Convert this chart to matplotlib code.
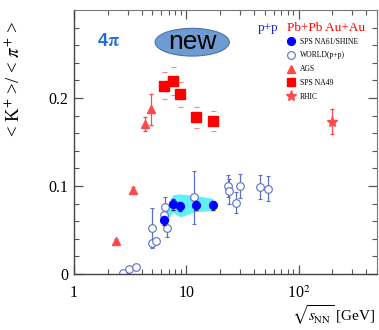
import numpy as np
import matplotlib.pyplot as plt
from matplotlib.patches import Ellipse
from matplotlib.lines import Line2D

plt.rcParams['font.family'] = ['Liberation Serif', 'DejaVu Serif']
plt.rcParams['mathtext.fontset'] = 'stix'

# NA61/SHINE p+p
na61_x = [6.3, 7.6, 8.8, 12.3, 17.3]
na61_y = [0.061, 0.079, 0.077, 0.078, 0.078]
na61_stat = [0.005, 0.006, 0.005, 0.005, 0.005]
na61_sys_lo = [0.056, 0.070, 0.065, 0.071, 0.072]
na61_sys_hi = [0.068, 0.090, 0.091, 0.089, 0.086]

# world p+p data
world_x = [2.72, 3.1, 3.53, 4.94, 4.94, 5.4, 6.36, 6.5, 6.7, 11.6,
           23.5, 24.0, 27.8, 30.4, 45.2, 53.2]
world_y = [0.001, 0.006, 0.008, 0.052, 0.035, 0.037, 0.067, 0.076, 0.052, 0.087,
           0.100, 0.094, 0.081, 0.100, 0.099, 0.097]
world_err = [0.001, 0.001, 0.001, 0.023, 0.004, 0.003, 0.008, 0.012, 0.010, 0.030,
             0.012, 0.014, 0.012, 0.014, 0.014, 0.014]

# AGS Au+Au
ags_x = [2.35, 3.35, 4.3, 4.87]
ags_y = [0.037, 0.096, 0.170, 0.187]
ags_err = [0.003, 0.003, 0.008, 0.018]

# NA49 Pb+Pb
na49_x = [6.3, 7.6, 8.8, 12.3, 17.3]
na49_y = [0.214, 0.219, 0.204, 0.178, 0.174]
na49_stat = [0.003, 0.003, 0.003, 0.003, 0.003]
na49_sys = [0.015, 0.016, 0.014, 0.012, 0.011]

# RHIC Au+Au
rhic_x = [200]
rhic_y = [0.173]
rhic_err = [0.014]

red = '#ff0000'
light_red = '#ff4a4a'
pp_col = '#5a6fc8'

fig = plt.figure(figsize=(3.79, 3.3), dpi=100)
ax = fig.add_axes([0.1953, 0.1697, 0.7995, 0.8])

ax.fill_between(na61_x, na61_sys_lo, na61_sys_hi, color='#5ff0f8', lw=0, zorder=1)

ax.errorbar(world_x, world_y, yerr=world_err, fmt='o', ms=5.5, mfc='white',
            mec=pp_col, mew=0.8, ecolor=pp_col, elinewidth=0.9, capsize=1.2,
            capthick=0.8, zorder=2)

ax.errorbar(na61_x, na61_y, yerr=na61_stat, fmt='o', ms=5.6, color='#0000ff',
            ecolor='#333333', elinewidth=0.8, capsize=1.2, zorder=4)

ax.errorbar(ags_x, ags_y, yerr=ags_err, fmt='^', ms=5.8, color=light_red,
            ecolor=light_red, elinewidth=0.9, capsize=1.5, zorder=3)

# NA49: systematic brackets plus statistical bars
ax.errorbar(na49_x, na49_y, yerr=na49_sys, fmt='none', ecolor='#ff8080',
            elinewidth=0, capsize=1.8, capthick=0.8, zorder=3)
ax.errorbar(na49_x, na49_y, yerr=na49_stat, fmt='s', ms=6.5, color=red,
            ecolor='#ff8080', elinewidth=0.8, zorder=3)

ax.errorbar(rhic_x, rhic_y, yerr=rhic_err, fmt='*', ms=8, color=light_red,
            ecolor=light_red, elinewidth=0.9, capsize=1.5, zorder=3)

ax.set_xscale('log')
ax.set_xlim(1, 500)
ax.set_ylim(0, 0.3)
ax.set_xticks([1, 10, 100])
ax.set_xticklabels(['1', '10', r'10$^2$'])
ax.set_yticks([0, 0.1, 0.2])
ax.set_yticklabels(['0', '0.1', '0.2'])
ax.set_yticks(np.arange(0, 0.3, 0.02), minor=True)

ax.tick_params(which='both', direction='in', top=True, right=True,
               colors='#555555', labelcolor='black', labelsize=11.5)
ax.tick_params(which='major', length=6.5, width=0.9)
ax.tick_params(which='minor', length=3.5, width=0.8)
ax.tick_params(axis='x', pad=8)
ax.tick_params(axis='y', pad=4)
for side in ['left', 'bottom']:
    ax.spines[side].set_color('#444444')
    ax.spines[side].set_linewidth(1.0)
for side in ['top', 'right']:
    ax.spines[side].set_color('#777777')
    ax.spines[side].set_linewidth(0.8)

ax.set_xlabel(r'$\sqrt{s_{\rm NN}}$ [GeV]', fontsize=11, loc='right')
ax.xaxis.set_label_coords(0.995, -0.11)
ax.set_ylabel(r'< K$^{+}$ >/ < $\pi^{+}$ >', fontsize=13.5, loc='top')
ax.yaxis.set_label_coords(-0.165, 0.96)

# 4pi tag and "new" badge
ax.text(0.075, 0.88, r'4$\mathbf{\pi}$', transform=ax.transAxes, fontsize=13,
        fontweight='bold', color='#1e6fd9', family='Liberation Sans',
        ha='left', va='center')
badge = Ellipse((0.39, 0.878), 0.245, 0.105, transform=ax.transAxes,
                facecolor='#6f9bd3', edgecolor='#4a72aa', lw=0.8, zorder=5)
ax.add_patch(badge)
ax.text(0.39, 0.878, 'new', transform=ax.transAxes, fontsize=19,
        family='Liberation Sans', color='black', ha='center', va='center',
        zorder=6)

# legend headers
ax.text(0.607, 0.93, 'p+p', transform=ax.transAxes, fontsize=9.5,
        color='#2222dd', ha='left', va='center')
ax.text(0.703, 0.93, 'Pb+Pb Au+Au', transform=ax.transAxes, fontsize=9.5,
        color=red, ha='left', va='center')

handles = [
    Line2D([], [], ls='none', marker='o', ms=5.6, color='#0000ff'),
    Line2D([], [], ls='none', marker='o', ms=5.6, mfc='white', mec=pp_col, mew=0.8),
    Line2D([], [], ls='none', marker='^', ms=6, color=light_red),
    Line2D([], [], ls='none', marker='s', ms=6, color=red),
    Line2D([], [], ls='none', marker='*', ms=8, color=light_red),
]
labels = ['SPS NA61/SHINE', 'WORLD(p+p)', 'AGS', 'SPS NA49', 'RHIC']
ax.legend(handles, labels, loc='upper left', bbox_to_anchor=(0.705, 0.895),
          frameon=False, fontsize=5.5, handlelength=1.0, handletextpad=0.6,
          labelspacing=0.75, borderpad=0, borderaxespad=0)

fig.savefig('out.png', dpi=100)
